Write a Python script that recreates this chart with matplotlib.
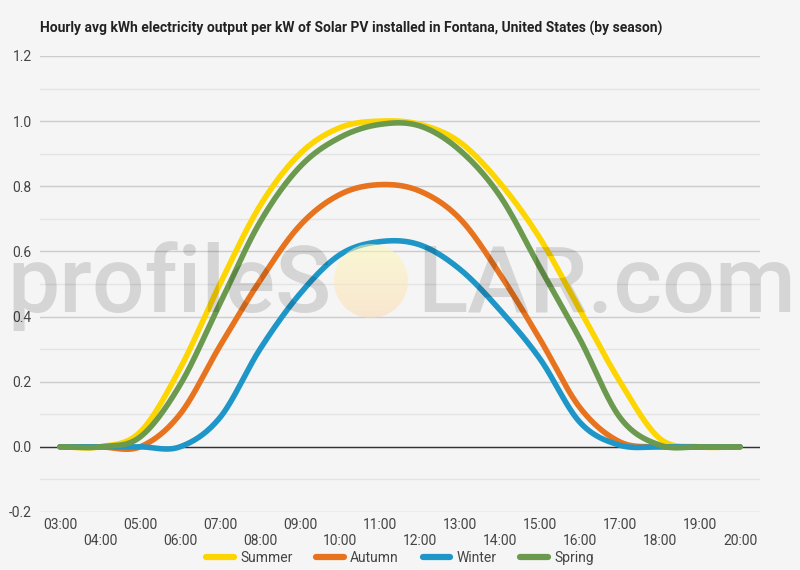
import matplotlib
matplotlib.use('Agg')
import matplotlib.pyplot as plt
from matplotlib.patches import Ellipse
import numpy as np

# hours on the category axis
hours = ['03:00', '04:00', '05:00', '06:00', '07:00', '08:00', '09:00', '10:00', '11:00',
         '12:00', '13:00', '14:00', '15:00', '16:00', '17:00', '18:00', '19:00', '20:00']

# avg kWh per kW
summer = [0.0, 0.0, 0.045, 0.24, 0.50, 0.74, 0.90, 0.98, 1.0, 0.99, 0.935, 0.81, 0.64, 0.42, 0.20, 0.025, 0.0, 0.0]
autumn = [0.0, 0.0, 0.0, 0.10, 0.31, 0.51, 0.68, 0.775, 0.805, 0.785, 0.70, 0.53, 0.33, 0.12, 0.015, 0.0, 0.0, 0.0]
winter = [0.0, 0.0, 0.0, 0.0, 0.09, 0.30, 0.47, 0.59, 0.63, 0.62, 0.545, 0.42, 0.27, 0.075, 0.005, 0.0, 0.0, 0.0]
spring = [0.0, 0.0, 0.03, 0.19, 0.44, 0.69, 0.86, 0.95, 0.99, 0.985, 0.91, 0.77, 0.55, 0.33, 0.09, 0.005, 0.0, 0.0]

series = [('Summer', summer, '#FDD500'),
          ('Autumn', autumn, '#E8731F'),
          ('Winter', winter, '#1E96C8'),
          ('Spring', spring, '#6B9A4F')]


def smooth(y, n=30):
    # catmull-rom spline through the hourly points
    y = np.asarray(y, dtype=float)
    p = np.concatenate([[y[0]], y, [y[-1]]])
    xs, ys = [], []
    t = np.linspace(0, 1, n, endpoint=False)
    for i in range(len(y) - 1):
        p0, p1, p2, p3 = p[i], p[i + 1], p[i + 2], p[i + 3]
        m1 = (p2 - p0) / 2
        m2 = (p3 - p1) / 2
        h00 = 2 * t**3 - 3 * t**2 + 1
        h10 = t**3 - 2 * t**2 + t
        h01 = -2 * t**3 + 3 * t**2
        h11 = t**3 - t**2
        xs.append(i + t)
        ys.append(h00 * p1 + h10 * m1 + h01 * p2 + h11 * m2)
    xs.append([len(y) - 1])
    ys.append([y[-1]])
    return np.concatenate(xs), np.concatenate(ys)


plt.rcParams['font.family'] = ['Roboto', 'DejaVu Sans']

bg = '#F5F5F5'
fig = plt.figure(figsize=(8, 5.7), dpi=100, facecolor=bg)
ax = fig.add_axes([0.05, 0.1018, 0.90, 0.80])
ax.set_facecolor(bg)

x = np.arange(len(hours))
for name, vals, col in series:
    sx, sy = smooth(vals)
    ax.plot(sx, sy, color=col, lw=4, solid_capstyle='round', label=name, zorder=3)

ax.set_xlim(-0.5, len(hours) - 0.5)
ax.set_ylim(-0.2, 1.2)

# gridlines
ax.set_yticks(np.arange(-0.2, 1.21, 0.2))
ax.set_yticklabels([f'{v:.1f}' for v in np.arange(-0.2, 1.21, 0.2)])
ax.set_yticks(np.arange(-0.1, 1.2, 0.2), minor=True)
ax.grid(axis='y', which='major', color='#CCCCCC', lw=1)
ax.grid(axis='y', which='minor', color='#E4E4E4', lw=1)
ax.axhline(0, color='#333333', lw=1, zorder=2)
ax.set_axisbelow(True)

# staggered hour labels
ax.set_xticks(x)
ax.set_xticklabels([h if i % 2 == 0 else '\n' + h for i, h in enumerate(hours)])
ax.tick_params(axis='both', which='both', length=0, labelsize=10, labelcolor='#444444')
ax.tick_params(axis='x', pad=4)
ax.tick_params(axis='y', pad=6)
for s in ax.spines.values():
    s.set_visible(False)

fig.text(40 / 800, 1 - 28 / 570, 'Hourly avg kWh electricity output per kW of Solar PV installed in Fontana, United States (by season)',
         fontsize=10, fontweight='bold', color='#222222', va='center', ha='left')

leg = fig.legend(loc='center', bbox_to_anchor=(0.5, 1 - 558 / 570), ncol=4, frameon=False,
                 fontsize=10, handlelength=2.0, handletextpad=0.45, columnspacing=1.7,
                 labelcolor='#444444')
for h in leg.get_lines():
    h.set_linewidth(4.5)

# watermark
base = 1 - 312 / 570
fig.text(332 / 800, base, 'profileS', fontsize=67, fontweight='medium', color='black', alpha=0.13,
         ha='right', va='baseline', zorder=10)
fig.text(417 / 800, base, 'LAR.com', fontsize=67, fontweight='medium', color='black', alpha=0.13,
         ha='left', va='baseline', zorder=10)

# sun: pale yellow at the top fading to peach at the bottom
sun = fig.add_axes([334 / 800, 1 - 318 / 570, 74 / 800, 74 / 570], zorder=10)
sun.set_axis_off()
sun.patch.set_alpha(0)
grad = np.linspace(0, 1, 100)[:, None]
cols = np.array([[1.0, 0.98, 0.72], [0.99, 0.86, 0.70]])
img = cols[0] * (1 - grad[..., None]) + cols[1] * grad[..., None]
img = np.repeat(img, 2, axis=1)
im = sun.imshow(img, extent=[0, 1, 0, 1], aspect='auto', alpha=0.55)
im.set_clip_path(Ellipse((0.5, 0.5), 1, 1, transform=sun.transAxes))
sun.set_xlim(0, 1)
sun.set_ylim(0, 1)

fig.savefig('out.png', dpi=100, facecolor=bg)
